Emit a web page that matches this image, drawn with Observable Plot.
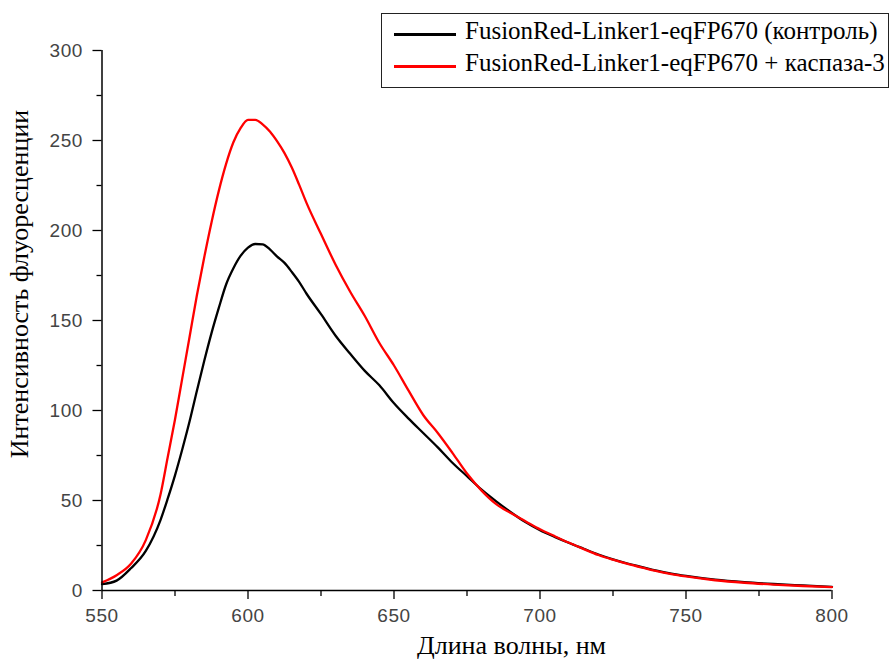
<!DOCTYPE html>
<html>
<head>
<meta charset="utf-8">
<script src="https://cdn.jsdelivr.net/npm/d3@7"></script>
<script src="https://cdn.jsdelivr.net/npm/@observablehq/plot@0.6"></script>
<style>
  body { margin: 0; background: #fff; }
  #wrap { position: relative; width: 890px; height: 659px; }
  .serif { font-family: "Liberation Serif", "Times New Roman", serif; color: #000; position: absolute; white-space: nowrap; }
  #legend { position: absolute; left: 381px; top: 13px; width: 506px; height: 73px; border: 1.5px solid #222; background: #fff; }
  .row { position: absolute; left: 0; height: 30px; }
  .sw { position: absolute; left: 12px; width: 62px; height: 3px; }
  .lt { position: absolute; left: 83px; font-family: "Liberation Serif", "Times New Roman", serif; font-size: 25px; white-space: nowrap; }
</style>
</head>
<body>
<div id="wrap"></div>
<script>
const wavelength = [550,555,560,565,570,572.5,575,577.5,580,582.5,585,587.5,590,592.5,595,597.5,600,602.5,605,607.5,610,612.5,615,617.5,620,625,630,635,640,645,650,655,660,665,670,675,680,685,690,695,700,705,710,715,720,725,730,735,740,745,750,760,770,780,790,800];
const control = [3.5,5.5,12.5,22,39,51,64,78.5,94,111,127.5,143,157,170,179,186,190.5,192.5,192.3,189.5,185.5,182,177,171.5,165,153.5,141.5,131.5,122,114,104,95.5,87.5,79.5,71,63.5,56,49.5,43.5,38,33.5,29.8,26.4,23.2,20,17.3,15,13,11,9.4,8.1,6,4.6,3.6,2.8,2];
const caspase = [4.5,8.5,15,28,53,74,95,118,141,164,185,204.5,222,237,249,257,261.5,261.5,259,255,249.5,243,235,225.5,215.5,198,181,166,152.5,137.5,125,111,97.5,87.5,76.5,65,55.5,48,43,38.5,34,30.2,26.5,23,19.7,17.1,14.8,12.7,10.7,9.1,7.8,5.7,4.3,3.3,2.5,1.9];
const seriesNames = ["FusionRed-Linker1-eqFP670 (контроль)", "FusionRed-Linker1-eqFP670 + каспаза-3"];
const seriesColors = ["#000000", "#ff0000"];
const xMajor = [550,600,650,700,750,800];
const xMinor = [575,625,675,725,775];
const yMajor = [0,50,100,150,200,250,300];
const yMinor = [25,75,125,175,225,275];
const xTitle = "Длина волны, нм";
const yTitle = "Интенсивность флуоресценции";

const rows = [];
wavelength.forEach((w,i) => {
  rows.push({w, v: control[i], s: seriesNames[0]});
  rows.push({w, v: caspase[i], s: seriesNames[1]});
});

const chart = Plot.plot({
  width: 890, height: 659,
  marginLeft: 101.5, marginRight: 58.5, marginTop: 50, marginBottom: 69,
  x: {domain: [550, 800]},
  y: {domain: [0, 300]},
  color: {domain: seriesNames, range: seriesColors},
  style: {fontFamily: "'Liberation Sans', Arial, sans-serif", background: "#fff", letterSpacing: "0.6px"},
  marks: [
    Plot.axisY({ticks: yMinor, tickSize: 5, text: null, label: null, stroke: "#000", strokeWidth: 1.3}),
    Plot.axisY({ticks: yMajor, tickSize: 9, text: null, label: null, stroke: "#000", strokeWidth: 1.3}),
    Plot.axisY({ticks: yMajor, tickSize: 0, tickPadding: 19, label: null, fill: "#444", fontSize: 19}),
    Plot.axisX({ticks: xMinor, tickSize: 6, text: null, label: null, stroke: "#000", strokeWidth: 1.3}),
    Plot.axisX({ticks: xMajor, tickSize: 9, text: null, label: null, stroke: "#000", strokeWidth: 1.3}),
    Plot.axisX({ticks: xMajor, tickSize: 0, tickPadding: 18, label: null, fill: "#444", fontSize: 19}),
    Plot.line(rows, {x: "w", y: "v", z: "s", stroke: "s", strokeWidth: 2.3, curve: "monotone-x"}),
    Plot.ruleX([550], {stroke: "#000", strokeWidth: 1.5}),
    Plot.ruleY([0], {stroke: "#000", strokeWidth: 1.5})
  ]
});
const wrap = document.getElementById("wrap");
wrap.appendChild(chart);

const xt = document.createElement("div");
xt.className = "serif"; xt.textContent = xTitle;
xt.style.fontSize = "26px"; xt.style.left = "417px"; xt.style.top = "631px";
wrap.appendChild(xt);

const yt = document.createElement("div");
yt.className = "serif"; yt.textContent = yTitle;
yt.style.fontSize = "26px"; yt.style.left = "20px"; yt.style.top = "284px";
yt.style.transform = "translate(-50%,-50%) rotate(-90deg)";
wrap.appendChild(yt);

const lg = document.createElement("div");
lg.id = "legend";
seriesNames.forEach((n,i) => {
  const r = document.createElement("div");
  r.className = "row"; r.style.top = (i*32 + 3) + "px";
  const sw = document.createElement("div");
  sw.className = "sw"; sw.style.background = seriesColors[i]; sw.style.top = "16px";
  const t = document.createElement("div");
  t.className = "lt"; t.textContent = n; t.style.top = "0px";
  r.appendChild(sw); r.appendChild(t);
  lg.appendChild(r);
});
wrap.appendChild(lg);
</script>
</body>
</html>
